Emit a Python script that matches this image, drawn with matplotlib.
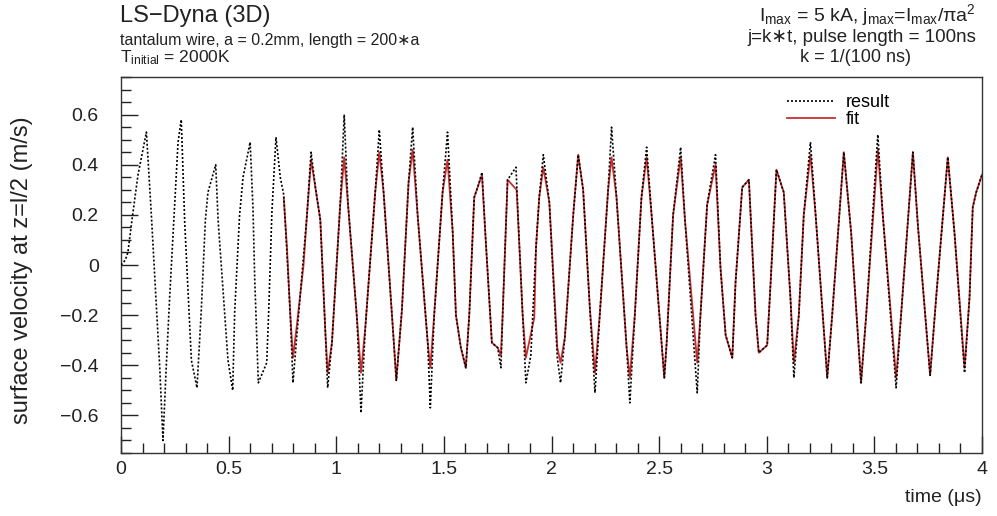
import matplotlib
matplotlib.use("Agg")
import matplotlib.pyplot as plt
from matplotlib.ticker import MultipleLocator

plt.rcParams['font.family'] = ['Liberation Sans', 'DejaVu Sans']
plt.rcParams['mathtext.fontset'] = 'custom'
plt.rcParams['mathtext.rm'] = 'Liberation Sans'
plt.rcParams['mathtext.it'] = 'Liberation Sans:italic'

# simulation output (black dotted)
t_result = [0.000, 0.020, 0.032, 0.051, 0.079, 0.118, 0.141, 0.153, 0.180, 0.195,
            0.210, 0.226, 0.265, 0.280, 0.296, 0.327, 0.353, 0.373, 0.392, 0.404,
            0.440, 0.451, 0.497, 0.519, 0.528, 0.551, 0.567, 0.600, 0.613, 0.621,
            0.638, 0.677, 0.686, 0.701, 0.720, 0.740, 0.756, 0.786, 0.799, 0.817,
            0.864, 0.883, 0.903, 0.926, 0.949, 0.960, 0.980, 1.019, 1.037, 1.054,
            1.096, 1.115, 1.135, 1.181, 1.200, 1.220, 1.266, 1.279, 1.305, 1.336,
            1.355, 1.378, 1.425, 1.437, 1.455, 1.494, 1.517, 1.541, 1.556, 1.579,
            1.602, 1.618, 1.641, 1.657, 1.677, 1.695, 1.723, 1.750, 1.765, 1.773,
            1.796, 1.835, 1.850, 1.866, 1.881, 1.904, 1.928, 1.943, 1.962, 1.990,
            2.027, 2.042, 2.062, 2.101, 2.124, 2.147, 2.178, 2.202, 2.225, 2.263,
            2.279, 2.302, 2.349, 2.364, 2.387, 2.418, 2.442, 2.465, 2.524, 2.535,
            2.565, 2.600, 2.620, 2.677, 2.692, 2.723, 2.762, 2.785, 2.809, 2.840,
            2.855, 2.886, 2.917, 2.948, 2.963, 3.002, 3.018, 3.045, 3.079, 3.110,
            3.126, 3.149, 3.172, 3.203, 3.227, 3.281, 3.304, 3.358, 3.392, 3.438,
            3.462, 3.516, 3.539, 3.601, 3.624, 3.679, 3.702, 3.759, 3.787, 3.841,
            3.872, 3.919, 3.942, 3.957, 3.973, 4.000]
v_result = [0.00, 0.02, 0.05, 0.18, 0.36, 0.53, 0.20, 0.01, -0.41, -0.70,
            -0.41, -0.13, 0.49, 0.58, 0.17, -0.38, -0.49, -0.18, 0.18, 0.29,
            0.40, 0.18, -0.38, -0.50, -0.19, 0.20, 0.35, 0.49, 0.23, -0.05,
            -0.47, -0.39, -0.19, 0.21, 0.51, 0.35, 0.28, -0.19, -0.47, -0.28,
            0.20, 0.45, 0.31, 0.18, -0.26, -0.49, -0.31, 0.25, 0.60, 0.25,
            -0.21, -0.59, -0.25, 0.29, 0.54, 0.29, -0.29, -0.46, -0.18, 0.33,
            0.55, 0.20, -0.31, -0.57, -0.20, 0.29, 0.53, 0.13, -0.20, -0.33,
            -0.41, -0.20, 0.27, 0.31, 0.37, 0.09, -0.31, -0.33, -0.41, -0.20,
            0.34, 0.39, 0.09, -0.20, -0.47, -0.36, 0.07, 0.27, 0.44, 0.25,
            -0.37, -0.47, -0.29, 0.20, 0.44, 0.30, -0.17, -0.51, -0.19, 0.30,
            0.55, 0.27, -0.33, -0.55, -0.20, 0.27, 0.47, 0.20, -0.45, -0.31,
            0.20, 0.47, 0.18, -0.51, -0.20, 0.24, 0.44, -0.01, -0.28, -0.37,
            -0.07, 0.31, 0.34, -0.20, -0.35, -0.32, -0.07, 0.38, 0.29, -0.13,
            -0.45, -0.20, 0.20, 0.49, 0.20, -0.45, -0.20, 0.45, 0.13, -0.47,
            -0.20, 0.52, 0.20, -0.49, -0.20, 0.45, 0.16, -0.44, -0.13, 0.43,
            0.13, -0.43, -0.13, 0.23, 0.29, 0.36]

# fitted curve (red), starts at ~0.75 us
t_fit = [0.756, 0.771, 0.786, 0.799, 0.817, 0.848, 0.864, 0.883, 0.903, 0.926,
         0.949, 0.960, 0.980, 1.019, 1.037, 1.054, 1.096, 1.115, 1.135, 1.181,
         1.200, 1.220, 1.266, 1.279, 1.305, 1.336, 1.355, 1.378, 1.425, 1.437,
         1.455, 1.494, 1.517, 1.541, 1.556, 1.579, 1.602, 1.618, 1.641, 1.657,
         1.677, 1.695, 1.723, 1.750, 1.765, 1.773, 1.796, 1.838, 1.850, 1.866,
         1.881, 1.920, 1.928, 1.943, 1.962, 1.990, 2.027, 2.042, 2.062, 2.101,
         2.124, 2.147, 2.178, 2.202, 2.225, 2.263, 2.279, 2.302, 2.349, 2.364,
         2.387, 2.418, 2.442, 2.465, 2.524, 2.535, 2.565, 2.600, 2.620, 2.677,
         2.692, 2.723, 2.762, 2.785, 2.809, 2.840, 2.855, 2.886, 2.917, 2.948,
         2.963, 3.002, 3.018, 3.045, 3.079, 3.110, 3.126, 3.149, 3.172, 3.203,
         3.227, 3.281, 3.304, 3.358, 3.392, 3.438, 3.462, 3.516, 3.539, 3.601,
         3.624, 3.679, 3.702, 3.759, 3.787, 3.841, 3.872, 3.919, 3.942, 3.957,
         3.973, 4.000]
v_fit = [0.27, 0.07, -0.19, -0.37, -0.24, 0.00, 0.20, 0.42, 0.31, 0.18,
         -0.26, -0.43, -0.31, 0.25, 0.43, 0.25, -0.21, -0.43, -0.25, 0.29,
         0.45, 0.29, -0.29, -0.46, -0.18, 0.33, 0.46, 0.20, -0.31, -0.41,
         -0.20, 0.29, 0.42, 0.13, -0.20, -0.33, -0.41, -0.20, 0.27, 0.31,
         0.36, 0.09, -0.31, -0.33, -0.36, -0.20, 0.34, 0.30, 0.09, -0.20,
         -0.37, -0.21, 0.07, 0.27, 0.39, 0.25, -0.33, -0.39, -0.29, 0.20,
         0.44, 0.30, -0.17, -0.43, -0.19, 0.30, 0.43, 0.27, -0.33, -0.45,
         -0.20, 0.27, 0.43, 0.20, -0.45, -0.31, 0.20, 0.43, 0.18, -0.39,
         -0.20, 0.24, 0.40, -0.01, -0.28, -0.37, -0.07, 0.31, 0.34, -0.20,
         -0.35, -0.32, -0.07, 0.38, 0.29, -0.13, -0.39, -0.20, 0.20, 0.44,
         0.20, -0.45, -0.20, 0.45, 0.13, -0.47, -0.20, 0.46, 0.20, -0.45,
         -0.20, 0.45, 0.16, -0.44, -0.13, 0.43, 0.13, -0.41, -0.13, 0.23,
         0.29, 0.36]

fig = plt.figure(figsize=(9.97, 5.16), dpi=100)
ax = fig.add_axes([121 / 997, 63 / 516, 861 / 997, 376 / 516])

fit_line, = ax.plot(t_fit, v_fit, color='#c83030', lw=1.3, zorder=2)
res_line, = ax.plot(t_result, v_result, color='black', lw=1.2,
                    linestyle=(0, (1.2, 1.2)), zorder=3)

ax.set_xlim(0, 4)
ax.set_ylim(-0.75, 0.75)
ax.xaxis.set_major_locator(MultipleLocator(0.5))
ax.xaxis.set_minor_locator(MultipleLocator(0.1))
ax.yaxis.set_major_locator(MultipleLocator(0.2))
ax.yaxis.set_minor_locator(MultipleLocator(0.05))
ax.xaxis.set_major_formatter(plt.FuncFormatter(lambda x, p: f"{x:g}"))
ax.yaxis.set_major_formatter(plt.FuncFormatter(lambda y, p: f"{y:g}".replace('-', '\u2212')))
ax.tick_params(which='both', direction='in', top=False, right=False,
               labelsize=14, colors='#222222')
ax.tick_params(which='major', length=12, width=1)
ax.tick_params(which='minor', length=7, width=1)
ax.tick_params(axis='y', pad=16)
ax.tick_params(axis='x', pad=6)
for s in ax.spines.values():
    s.set_color('#333333')
    s.set_linewidth(1)

ax.legend([res_line, fit_line], ['result', 'fit'], loc='upper left',
          bbox_to_anchor=(0.773, 0.955), frameon=False, fontsize=13,
          handlelength=2.7, handletextpad=0.6, labelspacing=0.0,
          borderpad=0, borderaxespad=0)

fig.text(22 / 997, 1 - 270 / 516, 'surface velocity at z=l/2 (m/s)',
         rotation=90, ha='center', va='center', fontsize=17, color='#222222')
fig.text(982 / 997, 1 - 498 / 516, 'time (\u03bcs)', ha='right', va='center',
         fontsize=14, color='#222222')

fig.text(120 / 997, 1 - 16 / 516, 'LS\u2212Dyna (3D)', ha='left', va='center',
         fontsize=17, color='#222222')
fig.text(120 / 997, 1 - 40 / 516, 'tantalum wire, a = 0.2mm, length = 200\u2217a',
         ha='left', va='center', fontsize=11.5, color='#222222')
fig.text(120 / 997, 1 - 58 / 516, r'T$_{\mathregular{initial}}$ = 2000K',
         ha='left', va='center', fontsize=12.5, color='#222222')

fig.text(976 / 997, 1 - 15 / 516,
         r'I$_{\mathregular{max}}$ = 5 kA, j$_{\mathregular{max}}$=I$_{\mathregular{max}}$/$\mathregular{\pi}$a$^{\mathregular{2}}$',
         ha='right', va='center', fontsize=14, color='#222222')
fig.text(976 / 997, 1 - 38 / 516, 'j=k\u2217t, pulse length = 100ns',
         ha='right', va='center', fontsize=13.5, color='#222222')
fig.text(855 / 997, 1 - 57 / 516, 'k = 1/(100 ns)',
         ha='center', va='center', fontsize=13, color='#222222')

fig.savefig('out.png', dpi=100, facecolor='white')
